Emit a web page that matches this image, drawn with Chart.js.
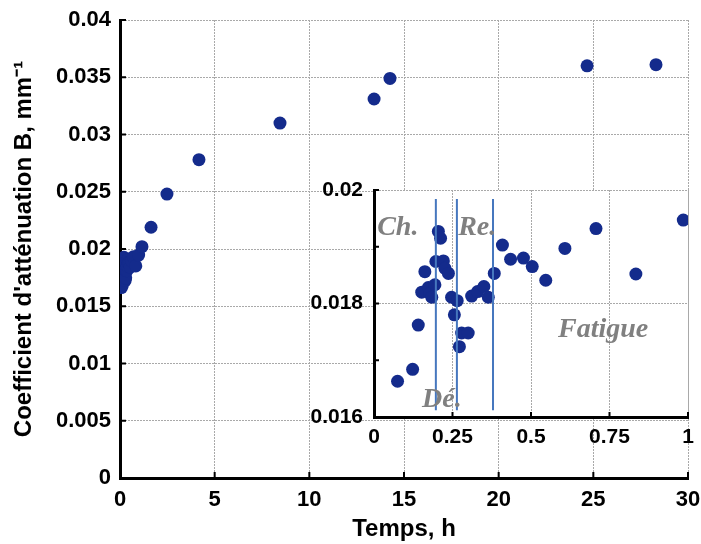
<!DOCTYPE html>
<html>
<head>
<meta charset="utf-8">
<script src="https://cdn.jsdelivr.net/npm/chart.js@4/dist/chart.umd.min.js"></script>
<style>
  html, body { margin: 0; padding: 0; background: #ffffff; }
  #wrap { position: relative; width: 701px; height: 544px; }
  #main { position: absolute; left: 0; top: 0; }
  #inset { position: absolute; left: 290px; top: 170px; }
</style>
</head>
<body>
<div id="wrap">
  <canvas id="main" width="701" height="544"></canvas>
  <canvas id="inset" width="411" height="290"></canvas>
</div>
<script>
// ---------- data (hours, mm^-1) ----------
const insetX = [0.075,0.123,0.141,0.152,0.162,0.173,0.178,0.184,0.194,0.197,0.205,0.212,0.221,0.226,0.237,0.247,0.256,0.265,0.272,0.279,0.300,0.311,0.330,0.350,0.364,0.383,0.409,0.435,0.476,0.504,0.547,0.608,0.707,0.834,0.985];
const insetY = [0.01663,0.01684,0.01762,0.01820,0.01856,0.01828,0.01818,0.01811,0.01833,0.01874,0.01927,0.01915,0.01875,0.01862,0.01853,0.01811,0.01780,0.01805,0.01724,0.01748,0.01748,0.01813,0.01821,0.01830,0.01811,0.01853,0.01903,0.01878,0.01880,0.01865,0.01841,0.01897,0.01932,0.01852,0.01947];
const laterX = [1.16, 1.64, 2.48, 4.17, 8.45, 13.42, 14.26, 24.67, 28.31];
const laterY = [0.0202, 0.0219, 0.0248, 0.0278, 0.0310, 0.0331, 0.0349, 0.0360, 0.0361];

const mainXTickLabels = ['0','5','10','15','20','25','30'];
const mainYTickLabels = ['0','0.005','0.01','0.015','0.02','0.025','0.03','0.035','0.04'];
const insetXTickLabels = ['0','0.25','0.5','0.75','1'];
const insetYTickLabels = ['0.016','','0.018','','0.02'];

// phase boundaries (h) and phase names inside the inset
const phaseLineX = [0.197, 0.264, 0.379];
const phaseLineYRange = [0.01612, 0.01984];
const phaseNames = ['Ch.', 'Dé.', 'Re.', 'Fatigue'];
const phaseNameX = [0.01, 0.153, 0.268, 0.586];
const phaseNameY = [0.01921, 0.01618, 0.01921, 0.01741];

const xTitle = 'Temps, h';
const yTitle = "Coefficient d'atténuation B, mm\u207B\u00B9";

// ---------- styling ----------
const DOT = '#142B8C';
const GRID = '#a9a9a9';
const SANS = "'Liberation Sans', Arial, sans-serif";

const mainPoints = insetX.map((x, i) => ({x, y: insetY[i]}))
  .concat(laterX.map((x, i) => ({x, y: laterY[i]})));
const insetPoints = insetX.map((x, i) => ({x, y: insetY[i]}));

function fitX(h) {
  return s => { s.height = h; s.paddingLeft = 0; s.paddingRight = 0; };
}
function fitY(w) {
  return s => { s.width = w; s.paddingTop = 0; s.paddingBottom = 0; };
}

// inward tick marks
function innerTicks(len) {
  return {
    id: 'innerTicks',
    afterDraw(chart) {
      const ctx = chart.ctx, a = chart.chartArea;
      const xs = chart.scales.x, ys = chart.scales.y;
      ctx.save();
      ctx.strokeStyle = '#000';
      ctx.lineWidth = 2;
      ctx.beginPath();
      xs.ticks.forEach(t => {
        const p = xs.getPixelForValue(t.value);
        ctx.moveTo(p, a.bottom); ctx.lineTo(p, a.bottom - len);
      });
      ys.ticks.forEach(t => {
        const p = ys.getPixelForValue(t.value);
        ctx.moveTo(a.left, p); ctx.lineTo(a.left + len, p);
      });
      ctx.stroke();
      ctx.restore();
    }
  };
}

const whiteArea = {
  id: 'whiteArea',
  beforeDraw(chart) {
    const a = chart.chartArea, ctx = chart.ctx;
    ctx.save();
    ctx.fillStyle = '#ffffff';
    ctx.fillRect(a.left, a.top, a.right - a.left, a.bottom - a.top);
    ctx.restore();
  }
};

const phases = {
  id: 'phases',
  afterDatasetsDraw(chart) {
    const ctx = chart.ctx, xs = chart.scales.x, ys = chart.scales.y;
    ctx.save();
    ctx.strokeStyle = '#4677BE';
    ctx.lineWidth = 2;
    ctx.beginPath();
    phaseLineX.forEach(v => {
      const p = xs.getPixelForValue(v);
      ctx.moveTo(p, ys.getPixelForValue(phaseLineYRange[1]));
      ctx.lineTo(p, ys.getPixelForValue(phaseLineYRange[0]));
    });
    ctx.stroke();
    ctx.fillStyle = '#808080';
    ctx.font = "italic bold 28px 'Liberation Serif', 'Times New Roman', serif";
    ctx.textAlign = 'left';
    ctx.textBaseline = 'alphabetic';
    phaseNames.forEach((n, i) => {
      ctx.fillText(n, xs.getPixelForValue(phaseNameX[i]), ys.getPixelForValue(phaseNameY[i]));
    });
    ctx.restore();
  }
};

new Chart(document.getElementById('main'), {
  type: 'scatter',
  data: { datasets: [{
    data: mainPoints,
    backgroundColor: DOT, borderColor: DOT,
    pointRadius: 6.5, pointBorderWidth: 0, pointHoverRadius: 6.5
  }]},
  options: {
    responsive: false, animation: false,
    layout: { padding: { top: 20, right: 13, left: 0, bottom: 0 } },
    plugins: { legend: { display: false }, tooltip: { enabled: false } },
    scales: {
      x: {
        type: 'linear', min: 0, max: 30,
        afterFit: fitX(66),
        ticks: { stepSize: 5, padding: 9, color: '#000',
          font: { family: SANS, size: 22, weight: 'bold' },
          callback: (v, i) => mainXTickLabels[i] },
        grid: { color: GRID, lineWidth: 1, drawTicks: false },
        border: { display: true, color: '#000', width: 3, dash: [2, 1] },
        title: { display: true, text: xTitle, color: '#000',
          font: { family: SANS, size: 24, weight: 'bold' },
          padding: { top: 0, bottom: 0 } }
      },
      y: {
        type: 'linear', min: 0, max: 0.04,
        afterFit: fitY(120),
        ticks: { stepSize: 0.005, padding: 9, color: '#000',
          font: { family: SANS, size: 22, weight: 'bold' },
          callback: (v, i) => mainYTickLabels[i] },
        grid: { color: GRID, lineWidth: 1, drawTicks: false },
        border: { display: true, color: '#000', width: 3, dash: [2, 1] },
        title: { display: true, text: yTitle, color: '#000',
          font: { family: SANS, size: 24, weight: 'bold' },
          padding: { top: 10, bottom: 0 } }
      }
    }
  },
  plugins: [innerTicks(6)]
});

new Chart(document.getElementById('inset'), {
  type: 'scatter',
  data: { datasets: [{
    data: insetPoints,
    backgroundColor: DOT, borderColor: DOT,
    pointRadius: 6.5, pointBorderWidth: 0, pointHoverRadius: 6.5
  }]},
  options: {
    responsive: false, animation: false,
    layout: { padding: { top: 20, right: 13, left: 0, bottom: 0 } },
    plugins: { legend: { display: false }, tooltip: { enabled: false } },
    scales: {
      x: {
        type: 'linear', min: 0, max: 1,
        afterFit: fitX(43),
        ticks: { stepSize: 0.25, padding: 8, color: '#000',
          font: { family: SANS, size: 21, weight: 'bold' },
          callback: (v, i) => insetXTickLabels[i] },
        grid: { color: GRID, lineWidth: 1, drawTicks: false },
        border: { display: true, color: '#000', width: 3, dash: [2, 1] }
      },
      y: {
        type: 'linear', min: 0.016, max: 0.02,
        afterFit: fitY(84),
        ticks: { stepSize: 0.001, padding: 11, color: '#000',
          font: { family: SANS, size: 21, weight: 'bold' },
          callback: (v, i) => insetYTickLabels[i] },
        grid: { color: ctx => (insetYTickLabels[ctx.index] ? GRID : 'rgba(0,0,0,0)'),
          lineWidth: 1, drawTicks: false },
        border: { display: true, color: '#000', width: 3, dash: [2, 1] }
      }
    }
  },
  plugins: [whiteArea, phases, innerTicks(5)]
});
</script>
</body>
</html>
